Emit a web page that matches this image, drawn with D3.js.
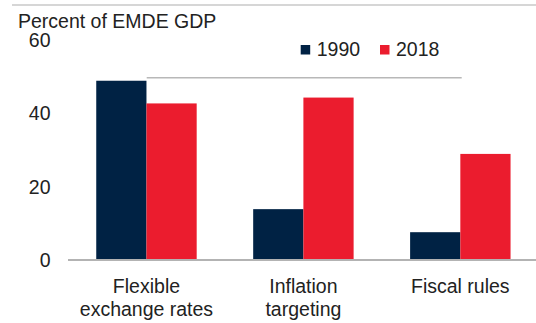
<!DOCTYPE html>
<html>
<head>
<meta charset="utf-8">
<script src="https://cdn.jsdelivr.net/npm/d3@7"></script>
<style>
  html, body { margin: 0; padding: 0; background: #fff; }
  svg { display: block; font-family: "Liberation Sans", Arial, sans-serif; }
</style>
</head>
<body>
<svg id="chart" width="536" height="323"></svg>
<script>
// Share of EMDE GDP covered by each policy framework
const categories = [["Flexible", "exchange rates"], ["Inflation", "targeting"], ["Fiscal rules"]];
const seriesNames = ["1990", "2018"];
const values1990 = [49, 13.9, 7.6];
const values2018 = [42.8, 44.4, 29];
const yTicks = [0, 20, 40, 60];
const colors = ["#002244", "#EB1C2E"];

const FS = 19.5;
const svg = d3.select("#chart");
const x0 = 68, x1 = 538.8, yBase = 260, yTop = 40.5;

const x = d3.scaleBand().domain(d3.range(categories.length)).range([x0, x1])
  .paddingInner(0.36).paddingOuter(0.18);
const xs = d3.scaleBand().domain(seriesNames).range([0, x.bandwidth()]);
const y = d3.scaleLinear().domain([0, 60]).range([yBase, yTop]);

// top rule
svg.append("line").attr("x1", 12).attr("x2", 536).attr("y1", 5).attr("y2", 5)
  .attr("stroke", "#c8c8c8").attr("stroke-width", 1.5);

// unit label
svg.append("text").attr("x", 18).attr("y", 27.5).attr("font-size", FS).attr("fill", "#222")
  .text("Percent of EMDE GDP");

// bars
const series = [values1990, values2018];
const groups = svg.append("g").selectAll("g").data(categories).join("g")
  .attr("transform", (d, i) => `translate(${x(i)},0)`);
groups.selectAll("rect")
  .data((d, i) => seriesNames.map((s, k) => ({ s, k, v: series[k][i] })))
  .join("rect")
  .attr("x", d => xs(d.s)).attr("width", xs.bandwidth())
  .attr("y", d => y(d.v)).attr("height", d => y(0) - y(d.v))
  .attr("fill", d => colors[d.k]);

// rule under legend
svg.append("line").attr("x1", 146.7).attr("x2", 461.7).attr("y1", 77.7).attr("y2", 77.7)
  .attr("stroke", "#b8b8b8").attr("stroke-width", 1.5);

// y axis labels
const yAxis = d3.axisLeft(y).tickValues(yTicks).tickSize(0).tickPadding(0);
const ya = svg.append("g").attr("transform", "translate(50.5,0)").call(yAxis);
ya.select(".domain").remove();
ya.selectAll("text").attr("font-size", FS).attr("fill", "#222")
  .attr("font-family", "Liberation Sans, Arial, sans-serif");

// baseline
svg.append("line").attr("x1", 68).attr("x2", 536).attr("y1", yBase).attr("y2", yBase)
  .attr("stroke", "#b3b3b3").attr("stroke-width", 2);

// category labels
const xl = svg.append("g");
categories.forEach((lines, i) => {
  const t = xl.append("text").attr("text-anchor", "middle").attr("font-size", FS).attr("fill", "#222");
  lines.forEach((ln, j) => {
    t.append("tspan").attr("x", x(i) + x.bandwidth() / 2).attr("y", 292.5 + j * 23).text(ln);
  });
});

// legend
const leg = svg.append("g");
const legX = [300.7, 380];
seriesNames.forEach((s, k) => {
  leg.append("rect").attr("x", legX[k]).attr("y", 45).attr("width", 9.5).attr("height", 9.5).attr("fill", colors[k]);
  leg.append("text").attr("x", legX[k] + 16).attr("y", 55.7).attr("font-size", FS).attr("fill", "#222").text(s);
});
</script>
</body>
</html>
